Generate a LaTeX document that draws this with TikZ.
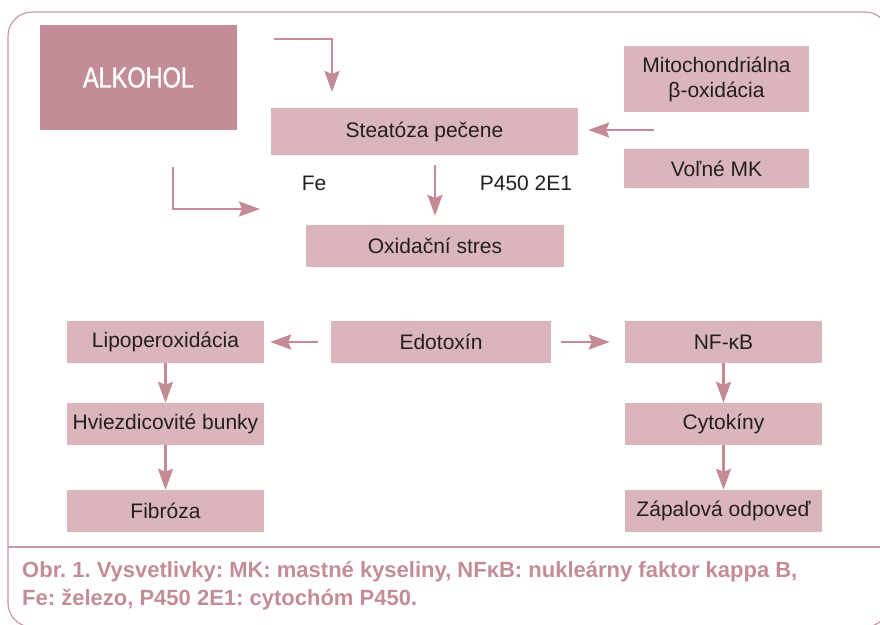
\documentclass[tikz,border=0pt]{standalone}
\usepackage{fontspec}
\setmainfont{Liberation Sans}
\newfontfamily\narrowfont[FakeStretch=0.81,FakeBold=1.2]{Liberation Sans}
\usetikzlibrary{arrows.meta}
\definecolor{boxpink}{HTML}{DAB5BB}
\definecolor{darkpink}{HTML}{C28D97}
\definecolor{arrowpink}{HTML}{C48B97}
\definecolor{framepink}{HTML}{C99AA3}
\definecolor{textdark}{HTML}{231F20}
\frenchspacing
\begin{document}
\begin{tikzpicture}
		[x=1pt,y=-1pt,
		box/.style={fill=boxpink,text=textdark,inner sep=0pt,minimum height=42pt,font=\fontsize{21}{25}\selectfont},
		arr/.style={draw=arrowpink,line width=2.5pt,-{Stealth[length=21pt,width=15pt,inset=3pt]}},
		lbl/.style={text=textdark,inner sep=0pt,font=\fontsize{21}{25}\selectfont},
		captxt/.style={text=darkpink,inner sep=0pt,anchor=base west,font=\bfseries\fontsize{22}{28}\selectfont},]
		\useasboundingbox(0,0) rectangle (880,624);
		\clip(0,0) rectangle (880,624);
		% frame
		\draw[framepink,line width=1.2pt,rounded corners=24pt](8,12) rectangle (889,627);
		\draw[framepink,line width=1.5pt](8,547)--(880,547);
		% upper part
		\node[box,fill=darkpink,text=white,minimum width=197pt,minimum height=105pt,font=\narrowfont\fontsize{29}{31}\selectfont](alkohol) at (138.5,77.5){ALKOHOL};
		\node[box,minimum width=307pt,minimum height=47pt](steatoza) at (424.5,131.5){Steatóza pečene};
		\node[box,minimum width=185pt,minimum height=66pt,align=center](mito) at (716.5,79){Mitochondriálna\\β-oxidácia};
		\node[box,minimum width=185pt,minimum height=39pt](volne) at (716.5,168.5){Voľné MK};
		\node[lbl](fe) at (314,183.5){Fe};
		\node[lbl](p450) at (526,183.5){P450 2E1};
		\node[box,minimum width=258pt](oxid) at (435,246){Oxidační stres};
		% lower part
		\node[box,minimum width=197pt](lipo) at (165.5,342){Lipoperoxidácia};
		\node[box,minimum width=220pt](edo) at (441,342){Edotoxín};
		\node[box,minimum width=197pt](nfkb) at (723.5,342){NF-κB};
		\node[box,minimum width=197pt](hviezd) at (165.5,424){Hviezdicovité bunky};
		\node[box,minimum width=197pt](cyto) at (723.5,424){Cytokíny};
		\node[box,minimum width=197pt](fibroza) at (165.5,511){Fibróza};
		\node[box,minimum width=197pt](zapal) at (723.5,511){Zápalová odpoveď};
		% arrows
		\coordinate(a1) at (274,39);
		\coordinate(a2) at (332,92);
		\coordinate(b1) at (173,167);
		\coordinate(b2) at (260,209);
		\coordinate(c1) at (654,130);
		\draw[arr](a1)-|(a2);
		\draw[arr](b1)|-(b2);
		\draw[arr,shorten >=10pt](c1)--(c1-|steatoza.east);
		\draw[arr,shorten <=10pt,shorten >=9pt](steatoza.south-|oxid.north)--(oxid.north);
		\draw[arr,shorten <=13pt,shorten >=6pt](edo.west)--(lipo.east);
		\draw[arr,shorten <=10pt,shorten >=15pt](edo.east)--(nfkb.west);
		\draw[arr](lipo)--(hviezd);
		\draw[arr](hviezd)--(fibroza);
		\draw[arr](nfkb)--(cyto);
		\draw[arr](cyto)--(zapal);
		% caption
		\node[captxt](cap1) at (22,577){Obr. 1. Vysvetlivky: MK: mastné kyseliny, NFκB: nukleárny faktor kappa B,};
		\node[captxt](cap2) at (22,605){Fe: železo, P450 2E1: cytochóm P450.};
\end{tikzpicture}
\end{document}
